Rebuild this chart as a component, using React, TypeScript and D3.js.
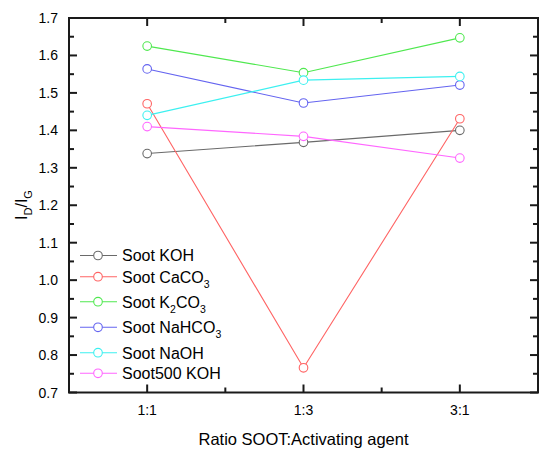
import * as React from 'react';
import * as d3 from 'd3';

const categories = ['1:1', '1:3', '3:1'];

const sootKOH = [1.338, 1.368, 1.4];
const sootCaCO3 = [1.471, 0.766, 1.431];
const sootK2CO3 = [1.625, 1.554, 1.647];
const sootNaHCO3 = [1.564, 1.473, 1.521];
const sootNaOH = [1.44, 1.534, 1.544];
const soot500KOH = [1.41, 1.384, 1.326];

const yTicks = [0.7, 0.8, 0.9, 1.0, 1.1, 1.2, 1.3, 1.4, 1.5, 1.6, 1.7];

interface Series {
    name: string;
    sub?: string;
    values: number[];
    color: string;
}

const series: Series[] = [
    { name: 'Soot KOH', values: sootKOH, color: '#6a6a6a' },
    { name: 'Soot CaCO', sub: '3', values: sootCaCO3, color: '#ff6464' },
    { name: 'Soot K', sub: '2', values: sootK2CO3, color: '#4fe84f' },
    { name: 'Soot NaHCO', sub: '3', values: sootNaHCO3, color: '#6464f0' },
    { name: 'Soot NaOH', values: sootNaOH, color: '#3cf0f0' },
    { name: 'Soot500 KOH', values: soot500KOH, color: '#ff66ff' },
];

const legendY = [255.5, 276.7, 301.7, 327.3, 352.7, 373.3];

const font = 'Arial, "Liberation Sans", sans-serif';
const axisColor = '#1a1a1a';

export default function App() {
    const left = 69, right = 538, top = 18, bottom = 392.5;

    const x = d3.scaleLinear().domain([0.5, 3.5]).range([left, right]);
    const y = d3.scaleLinear().domain([0.7, 1.7]).range([bottom, top]);

    const line = d3.line<number>()
        .x((d, i) => x(i + 1))
        .y((d) => y(d));

    const majorX = categories.map((c, i) => i + 1);
    const minorX = [1.5, 2.5];
    const minorY = yTicks.slice(0, -1).map((t) => t + 0.05);

    // Legend label, with subscripts drawn as smaller lowered tspans
    const label = (s: Series) => {
        if (s.name === 'Soot K') {
            return (
                <>
                    <tspan>Soot K</tspan>
                    <tspan fontSize={10.5} dy={5}>2</tspan>
                    <tspan dy={-5}>CO</tspan>
                    <tspan fontSize={10.5} dy={5}>3</tspan>
                </>
            );
        }
        return (
            <>
                <tspan>{s.name}</tspan>
                {s.sub && <tspan fontSize={10.5} dy={5}>{s.sub}</tspan>}
            </>
        );
    };

    return (
        <svg width={550} height={456} style={{ position: 'absolute', left: 0, top: 0, background: '#fff' }}
             fontFamily={font}>
            {/* data lines */}
            {series.map((s) => (
                <g key={s.name + (s.sub || '')}>
                    <path d={line(s.values) || ''} fill="none" stroke={s.color} strokeWidth={1.1} />
                    {s.values.map((v, i) => (
                        <circle key={i} cx={x(i + 1)} cy={y(v)} r={4.3} fill="#fff" stroke={s.color} strokeWidth={1.1} />
                    ))}
                </g>
            ))}

            {/* frame */}
            <rect x={left} y={top} width={right - left} height={bottom - top}
                  fill="none" stroke={axisColor} strokeWidth={2} />

            {/* inward ticks on all four sides */}
            <g stroke={axisColor} strokeWidth={2}>
                {yTicks.map((t) => (
                    <g key={'yt' + t}>
                        <line x1={left} x2={left + 8} y1={y(t)} y2={y(t)} />
                        <line x1={right} x2={right - 8} y1={y(t)} y2={y(t)} />
                    </g>
                ))}
                {minorY.map((t) => (
                    <g key={'ym' + t}>
                        <line x1={left} x2={left + 5} y1={y(t)} y2={y(t)} />
                        <line x1={right} x2={right - 5} y1={y(t)} y2={y(t)} />
                    </g>
                ))}
                {majorX.map((t) => (
                    <g key={'xt' + t}>
                        <line x1={x(t)} x2={x(t)} y1={bottom} y2={bottom - 8} />
                        <line x1={x(t)} x2={x(t)} y1={top} y2={top + 8} />
                    </g>
                ))}
                {minorX.map((t) => (
                    <g key={'xm' + t}>
                        <line x1={x(t)} x2={x(t)} y1={bottom} y2={bottom - 5} />
                        <line x1={x(t)} x2={x(t)} y1={top} y2={top + 5} />
                    </g>
                ))}
            </g>

            {yTicks.map((t) => (
                <text key={'y' + t} x={58} y={y(t) + 5} fontSize={14} textAnchor="end">{d3.format('.1f')(t)}</text>
            ))}
            {majorX.map((t, i) => (
                <text key={'x' + t} x={x(t)} y={415} fontSize={14} textAnchor="middle">{categories[i]}</text>
            ))}

            {/* axis titles */}
            <text x={303.5} y={445} fontSize={16.5} textAnchor="middle">Ratio SOOT:Activating agent</text>
            <text transform="translate(27,205) rotate(-90)" fontSize={16} textAnchor="middle">
                <tspan>I</tspan>
                <tspan fontSize={11} dy={5}>D</tspan>
                <tspan dy={-5}>/I</tspan>
                <tspan fontSize={11} dy={5}>G</tspan>
            </text>

            {/* legend */}
            {series.map((s, i) => (
                <g key={'lg' + i}>
                    <line x1={80} x2={117} y1={legendY[i]} y2={legendY[i]} stroke={s.color} strokeWidth={1.1} />
                    <circle cx={98} cy={legendY[i]} r={4.3} fill="#fff" stroke={s.color} strokeWidth={1.1} />
                    <text x={122} y={legendY[i] + 5.8} fontSize={16}>{label(s)}</text>
                </g>
            ))}
        </svg>
    );
}
